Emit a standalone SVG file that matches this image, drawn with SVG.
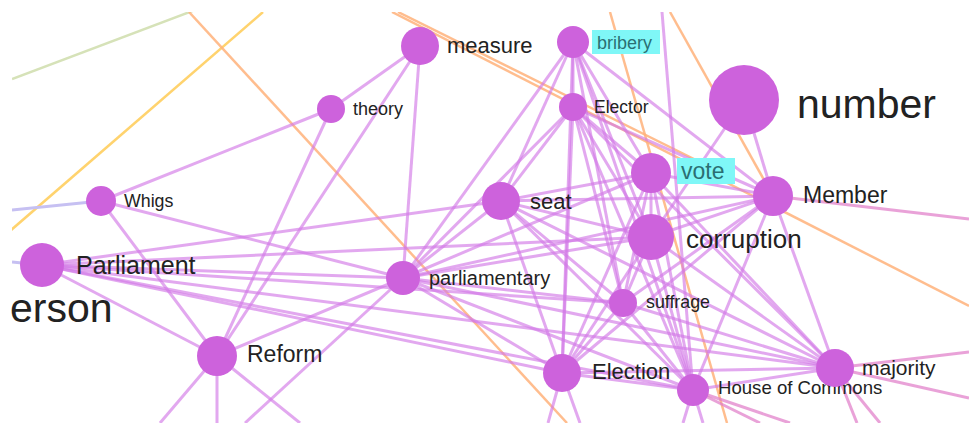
<svg xmlns="http://www.w3.org/2000/svg" width="969" height="423" viewBox="0 0 969 423">
<style>
.e{stroke:#d27ae6;stroke-width:3;stroke-opacity:0.65;fill:none}
.pk{stroke:#e07ac8;stroke-width:3;stroke-opacity:0.7;fill:none}
.or{stroke:#ffb27a;stroke-width:2.5;stroke-opacity:0.85;fill:none}
.ye{stroke:#ffd36e;stroke-width:2.5;fill:none}
.gr{stroke:#d6e2b8;stroke-width:2.5;fill:none}
.lv{stroke:#c6c0f2;stroke-width:3;fill:none}
.n{fill:#cd62dc}
.t{font-family:"Liberation Sans",Arial,sans-serif;fill:#222}
.hl{fill:#7ff7f7}
.ht{font-family:"Liberation Sans",Arial,sans-serif;fill:#2b6f73}
</style>
<defs><clipPath id="cp"><rect x="12" y="12" width="957" height="411"/></clipPath></defs>
<rect width="969" height="423" fill="#fff"/>
<g clip-path="url(#cp)">
<g id="edges">
<line class="gr" x1="12" y1="79" x2="195" y2="10"/>
<line class="ye" x1="263" y1="12" x2="10" y2="231"/>
<line class="or" x1="189" y1="12" x2="567" y2="423"/>
<line class="or" x1="392" y1="12" x2="969" y2="306"/>
<line class="or" x1="398" y1="12" x2="700" y2="162"/>
<line class="or" x1="610" y1="12" x2="727" y2="423"/>
<line class="or" x1="670" y1="12" x2="773" y2="196"/>
<line class="lv" x1="12" y1="210" x2="101" y2="201"/>
<line class="lv" x1="12" y1="262" x2="42" y2="265"/>
<line class="e" x1="420" y1="46" x2="331" y2="109"/>
<line class="e" x1="420" y1="46" x2="217" y2="356"/>
<line class="e" x1="420" y1="46" x2="403" y2="278"/>
<line class="e" x1="331" y1="109" x2="101" y2="201"/>
<line class="e" x1="331" y1="109" x2="217" y2="356"/>
<line class="e" x1="101" y1="201" x2="217" y2="356"/>
<line class="e" x1="101" y1="201" x2="403" y2="278"/>
<line class="e" x1="42" y1="265" x2="217" y2="356"/>
<line class="e" x1="42" y1="265" x2="403" y2="278"/>
<line class="e" x1="42" y1="265" x2="501" y2="201"/>
<line class="e" x1="42" y1="265" x2="623" y2="303"/>
<line class="e" x1="42" y1="265" x2="835" y2="368"/>
<line class="e" x1="42" y1="265" x2="693" y2="390"/>
<line class="e" x1="42" y1="265" x2="562" y2="373"/>
<line class="e" x1="42" y1="265" x2="651" y2="237"/>
<line class="e" x1="217" y1="356" x2="403" y2="278"/>
<line class="e" x1="217" y1="356" x2="160" y2="423"/>
<line class="e" x1="217" y1="356" x2="217" y2="423"/>
<line class="e" x1="217" y1="356" x2="300" y2="423"/>
<line class="e" x1="245" y1="423" x2="403" y2="278"/>
<line class="e" x1="403" y1="278" x2="501" y2="201"/>
<line class="e" x1="403" y1="278" x2="573" y2="107"/>
<line class="e" x1="403" y1="278" x2="573" y2="42"/>
<line class="e" x1="403" y1="278" x2="651" y2="173"/>
<line class="e" x1="403" y1="278" x2="651" y2="237"/>
<line class="e" x1="403" y1="278" x2="773" y2="196"/>
<line class="e" x1="403" y1="278" x2="623" y2="303"/>
<line class="e" x1="403" y1="278" x2="562" y2="373"/>
<line class="e" x1="403" y1="278" x2="693" y2="390"/>
<line class="e" x1="403" y1="278" x2="835" y2="368"/>
<line class="e" x1="501" y1="201" x2="573" y2="42"/>
<line class="e" x1="501" y1="201" x2="573" y2="107"/>
<line class="e" x1="501" y1="201" x2="651" y2="173"/>
<line class="e" x1="501" y1="201" x2="651" y2="237"/>
<line class="e" x1="501" y1="201" x2="773" y2="196"/>
<line class="e" x1="501" y1="201" x2="623" y2="303"/>
<line class="e" x1="501" y1="201" x2="562" y2="373"/>
<line class="e" x1="501" y1="201" x2="693" y2="390"/>
<line class="e" x1="501" y1="201" x2="835" y2="368"/>
<line class="e" x1="573" y1="42" x2="573" y2="107"/>
<line class="e" x1="573" y1="42" x2="651" y2="173"/>
<line class="e" x1="573" y1="42" x2="651" y2="237"/>
<line class="e" x1="573" y1="42" x2="773" y2="196"/>
<line class="e" x1="573" y1="42" x2="623" y2="303"/>
<line class="e" x1="573" y1="42" x2="562" y2="373"/>
<line class="e" x1="573" y1="42" x2="693" y2="390"/>
<line class="e" x1="573" y1="107" x2="651" y2="173"/>
<line class="e" x1="573" y1="107" x2="651" y2="237"/>
<line class="e" x1="573" y1="107" x2="773" y2="196"/>
<line class="e" x1="573" y1="107" x2="623" y2="303"/>
<line class="e" x1="573" y1="107" x2="562" y2="373"/>
<line class="e" x1="573" y1="107" x2="693" y2="390"/>
<line class="e" x1="573" y1="107" x2="835" y2="368"/>
<line class="e" x1="651" y1="173" x2="651" y2="237"/>
<line class="e" x1="651" y1="173" x2="773" y2="196"/>
<line class="e" x1="651" y1="173" x2="623" y2="303"/>
<line class="e" x1="651" y1="173" x2="562" y2="373"/>
<line class="e" x1="651" y1="173" x2="693" y2="390"/>
<line class="e" x1="651" y1="173" x2="835" y2="368"/>
<line class="e" x1="744" y1="100" x2="773" y2="196"/>
<line class="e" x1="744" y1="100" x2="651" y2="237"/>
<line class="e" x1="773" y1="196" x2="651" y2="237"/>
<line class="e" x1="773" y1="196" x2="623" y2="303"/>
<line class="e" x1="773" y1="196" x2="562" y2="373"/>
<line class="e" x1="773" y1="196" x2="693" y2="390"/>
<line class="e" x1="773" y1="196" x2="835" y2="368"/>
<line class="pk" x1="773" y1="196" x2="969" y2="219"/>
<line class="e" x1="651" y1="237" x2="623" y2="303"/>
<line class="e" x1="651" y1="237" x2="562" y2="373"/>
<line class="e" x1="651" y1="237" x2="693" y2="390"/>
<line class="e" x1="651" y1="237" x2="835" y2="368"/>
<line class="e" x1="623" y1="303" x2="562" y2="373"/>
<line class="e" x1="623" y1="303" x2="693" y2="390"/>
<line class="e" x1="623" y1="303" x2="835" y2="368"/>
<line class="e" x1="562" y1="373" x2="693" y2="390"/>
<line class="e" x1="562" y1="373" x2="835" y2="368"/>
<line class="e" x1="562" y1="373" x2="548" y2="423"/>
<line class="e" x1="562" y1="373" x2="580" y2="423"/>
<line class="e" x1="693" y1="390" x2="835" y2="368"/>
<line class="e" x1="693" y1="390" x2="683" y2="423"/>
<line class="e" x1="693" y1="390" x2="703" y2="423"/>
<line class="pk" x1="693" y1="390" x2="760" y2="423"/>
<line class="pk" x1="693" y1="390" x2="790" y2="423"/>
<line class="e" x1="662" y1="12" x2="693" y2="390"/>
<line class="pk" x1="835" y1="368" x2="857" y2="423"/>
<line class="pk" x1="835" y1="368" x2="880" y2="423"/>
<line class="pk" x1="835" y1="368" x2="969" y2="352"/>
<line class="pk" x1="835" y1="368" x2="969" y2="398"/>
</g>
<g id="measure"><circle class="n" cx="420" cy="46" r="19"/><text class="t" x="447" y="53" font-size="22">measure</text></g>
<g id="bribery"><circle class="n" cx="573" cy="42" r="16"/><rect class="hl" x="592" y="30" width="68" height="24"/><text class="ht" x="597" y="49" font-size="18">bribery</text></g>
<g id="theory"><circle class="n" cx="331" cy="109" r="14"/><text class="t" x="353" y="115" font-size="18">theory</text></g>
<g id="Elector"><circle class="n" cx="573" cy="107" r="14"/><text class="t" x="594" y="113" font-size="17.5">Elector</text></g>
<g id="number"><circle class="n" cx="744" cy="100" r="35"/><text class="t" x="797" y="118" font-size="41">number</text></g>
<g id="Whigs"><circle class="n" cx="101" cy="201" r="15"/><text class="t" x="124" y="207" font-size="17.8">Whigs</text></g>
<g id="seat"><circle class="n" cx="501" cy="201" r="19"/><text class="t" x="530" y="209" font-size="22">seat</text></g>
<g id="vote"><circle class="n" cx="651" cy="173" r="20"/><rect class="hl" x="677" y="158" width="58" height="26"/><text class="ht" x="681" y="179" font-size="23">vote</text></g>
<g id="Member"><circle class="n" cx="773" cy="196" r="20"/><text class="t" x="803" y="203" font-size="23">Member</text></g>
<g id="corruption"><circle class="n" cx="651" cy="237" r="23"/><text class="t" x="686" y="248" font-size="26">corruption</text></g>
<g id="Parliament"><circle class="n" cx="42" cy="265" r="22"/><text class="t" x="76" y="274" font-size="25">Parliament</text></g>
<g id="parliamentary"><circle class="n" cx="403" cy="278" r="17"/><text class="t" x="429" y="285" font-size="20">parliamentary</text></g>
<g id="suffrage"><circle class="n" cx="623" cy="303" r="14"/><text class="t" x="646" y="308" font-size="17.8">suffrage</text></g>
<g id="Reform"><circle class="n" cx="217" cy="356" r="20"/><text class="t" x="247" y="362" font-size="23">Reform</text></g>
<g id="Election"><circle class="n" cx="562" cy="373" r="19"/><text class="t" x="592" y="379" font-size="22">Election</text></g>
<g id="HouseOfCommons"><circle class="n" cx="693" cy="390" r="16"/><text class="t" x="718" y="394" font-size="18.6">House of Commons</text></g>
<g id="majority"><circle class="n" cx="835" cy="368" r="19"/><text class="t" x="862" y="375" font-size="21">majority</text></g>
</g>
<g id="person"><text class="t" x="10" y="322" font-size="41">erson</text></g>
</svg>
